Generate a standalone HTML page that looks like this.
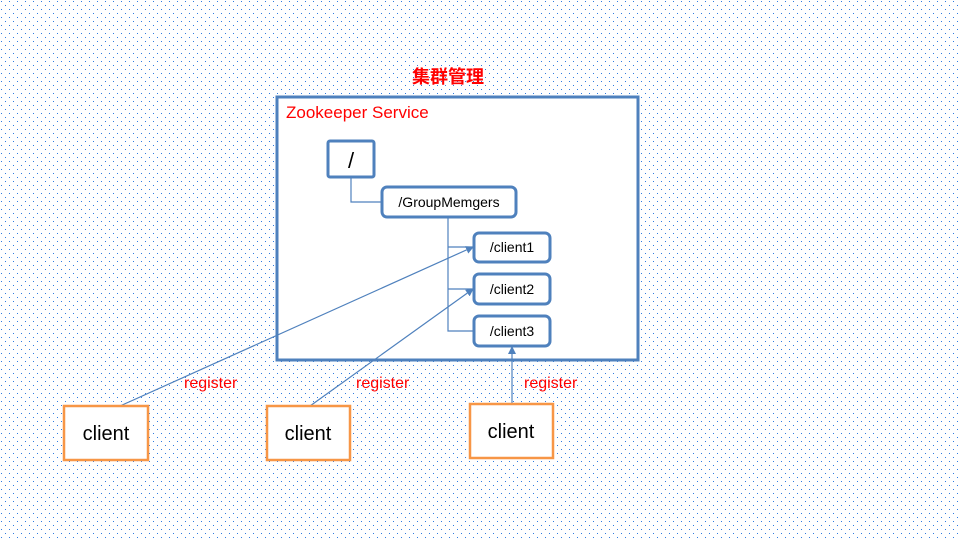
<!DOCTYPE html>
<html><head><meta charset="utf-8"><style>
html,body{margin:0;padding:0}
body{width:960px;height:540px;overflow:hidden;background:#fff}
</style></head><body>
<svg width="960" height="540" xmlns="http://www.w3.org/2000/svg" font-family="'Liberation Sans','Noto Sans CJK SC',sans-serif" shape-rendering="auto">
<defs>
<pattern id="d" width="8" height="8" patternUnits="userSpaceOnUse">
<rect x="1" y="1" width="1" height="1" fill="#2f7be0" shape-rendering="crispEdges"/>
<rect x="5" y="5" width="1" height="1" fill="#2f7be0" shape-rendering="crispEdges"/>
</pattern>
<marker id="a" markerWidth="8" markerHeight="8" refX="7" refY="4" orient="auto" markerUnits="userSpaceOnUse">
<path d="M0,0 L8,4 L0,8 z" fill="#4f81bd"/>
</marker>
</defs>
<rect width="960" height="540" fill="url(#d)"/>
<text x="448" y="83" font-size="18" font-weight="bold" fill="#ff0000" text-anchor="middle">集群管理</text>
<rect x="277" y="97" width="361" height="263" fill="#fff" stroke="#4f81bd" stroke-width="3"/>
<text x="286" y="118" font-size="17" fill="#ff0000">Zookeeper Service</text>
<g fill="none" stroke="#4f81bd" stroke-width="1.2">
<path d="M351,177 V202 H382"/>
<path d="M448,217 V331 H474 M448,247 H474 M448,289 H474"/>
</g>
<g fill="#fff" stroke="#4f81bd" stroke-width="3">
<rect x="328" y="141" width="46" height="36" rx="2"/>
<rect x="382" y="187" width="134" height="30" rx="5"/>
<rect x="474" y="233" width="76" height="29" rx="5"/>
<rect x="474" y="274" width="76" height="30" rx="5"/>
<rect x="474" y="316" width="76" height="30" rx="5"/>
</g>
<g font-size="14" fill="#000">
<text x="351" y="168" font-size="22" text-anchor="middle">/</text>
<text x="449" y="207" text-anchor="middle">/GroupMemgers</text>
<text x="512" y="252" text-anchor="middle">/client1</text>
<text x="512" y="294" text-anchor="middle">/client2</text>
<text x="512" y="336" text-anchor="middle">/client3</text>
</g>
<g stroke="#4f81bd" stroke-width="1.2" fill="none" marker-end="url(#a)">
<line x1="120" y1="406" x2="473" y2="247"/>
<line x1="310" y1="406" x2="473" y2="289"/>
<line x1="512" y1="404" x2="512" y2="347"/>
</g>
<g font-size="16" fill="#ff0000">
<text x="184" y="388">register</text>
<text x="356" y="388">register</text>
<text x="524" y="388">register</text>
</g>
<g fill="#fff" stroke="#f79646" stroke-width="2.5">
<rect x="64" y="406" width="84" height="54"/>
<rect x="267" y="406" width="83" height="54"/>
<rect x="470" y="404" width="83" height="54"/>
</g>
<g font-size="20" fill="#000" text-anchor="middle">
<text x="106" y="440">client</text>
<text x="308" y="440">client</text>
<text x="511" y="438">client</text>
</g>
</svg>
</body></html>
